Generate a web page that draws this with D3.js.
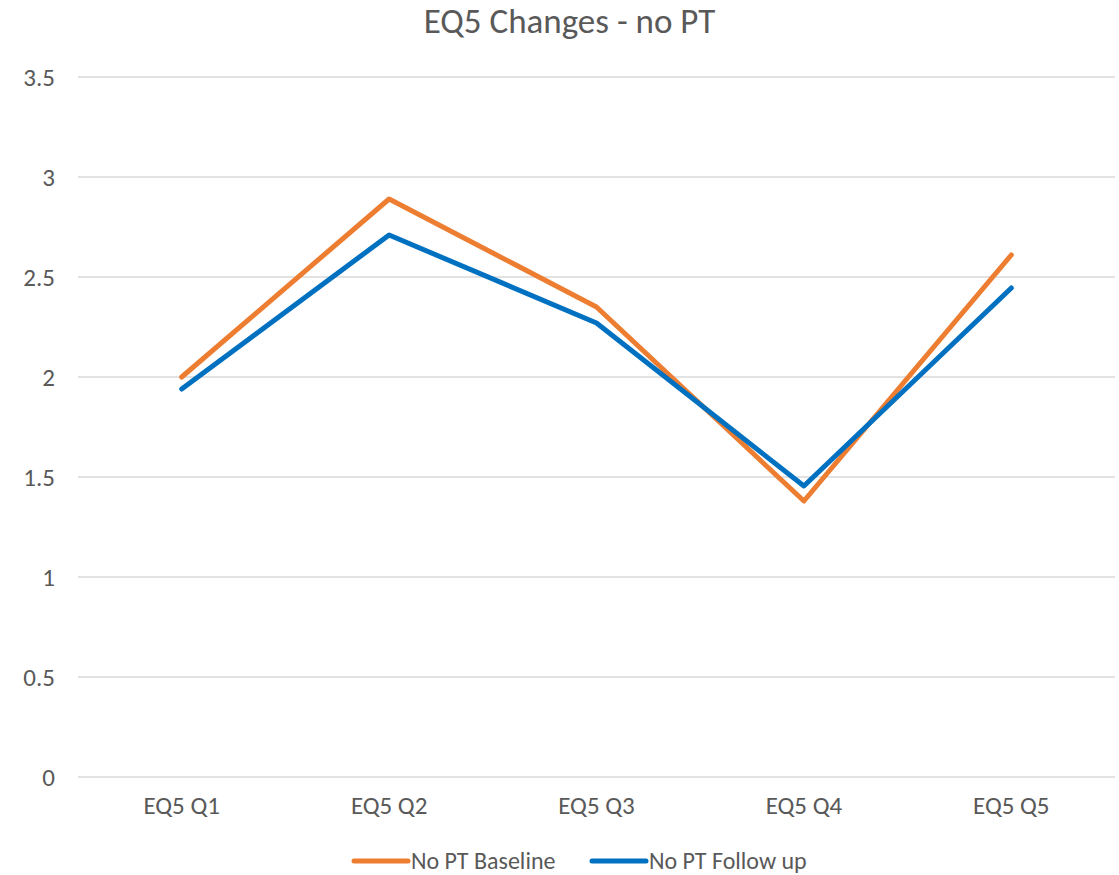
<!DOCTYPE html>
<meta charset="utf-8">
<style>
body { margin: 0; background: #fff; }
text { font-family: Carlito, Calibri, "Open Sans", sans-serif; fill: #595959; }
.grid line { stroke: #d9d9d9; stroke-width: 1.3px; }
.line { fill: none; stroke-width: 5px; stroke-linejoin: round; stroke-linecap: round; }
</style>
<body>
<script src="https://d3js.org/d3.v7.min.js"></script>
<script>

// data
var categories = ["EQ5 Q1", "EQ5 Q2", "EQ5 Q3", "EQ5 Q4", "EQ5 Q5"];
var baseline = [2.0, 2.89, 2.35, 1.38, 2.61];
var followUp = [1.94, 2.71, 2.27, 1.455, 2.445];
var yTicks = [0, 0.5, 1, 1.5, 2, 2.5, 3, 3.5];
var seriesNames = ["No PT Baseline", "No PT Follow up"];
var colors = ["#ed7d31", "#0070c0"];

var W = 1119, H = 875;
var margin = {top: 77, right: 4, bottom: 98, left: 78},
    width = W - margin.left - margin.right,
    height = H - margin.top - margin.bottom;

var svg = d3.select("body").append("svg")
    .attr("width", W)
    .attr("height", H);

// title
svg.append("text")
    .attr("x", W / 2 + 10)
    .attr("y", 33)
    .attr("text-anchor", "middle")
    .style("font-size", "35px")
    .text("EQ5 Changes - no PT");

var g = svg.append("g")
    .attr("transform", "translate(" + margin.left + "," + margin.top + ")");

var x = d3.scaleBand().domain(categories).range([0, width]);
var y = d3.scaleLinear().domain([0, 3.5]).range([height, 0]);

// gridlines
g.append("g")
    .attr("class", "grid")
  .selectAll("line")
    .data(yTicks)
  .enter().append("line")
    .attr("x1", 0)
    .attr("x2", width)
    .attr("y1", d => y(d))
    .attr("y2", d => y(d));

// y labels
var yAxis = g.append("g")
    .call(d3.axisLeft(y).tickValues(yTicks).tickSize(0).tickPadding(23).tickFormat(d3.format("")));
yAxis.select(".domain").remove();
yAxis.selectAll("text").style("font-size", "25px").attr("fill", "#595959");

// x labels
var xAxis = g.append("g")
    .attr("transform", "translate(0," + height + ")")
    .call(d3.axisBottom(x).tickSize(0).tickPadding(19));
xAxis.select(".domain").remove();
xAxis.selectAll("text").style("font-size", "25px").attr("fill", "#595959");

// lines
var line = d3.line()
    .x((d, i) => x(categories[i]) + x.bandwidth() / 2)
    .y(d => y(d));

[baseline, followUp].forEach(function(s, i) {
  g.append("path")
      .datum(s)
      .attr("class", "line")
      .style("stroke", colors[i])
      .attr("d", line);
});

// legend
var legendX = [352, 590];
var legend = svg.selectAll(".legend")
    .data(seriesNames)
  .enter().append("g")
    .attr("class", "legend")
    .attr("transform", (d, i) => "translate(" + legendX[i] + ",861)");

legend.append("line")
    .attr("x1", 2).attr("x2", 56)
    .attr("y1", 0).attr("y2", 0)
    .attr("stroke", (d, i) => colors[i])
    .attr("stroke-width", 5)
    .attr("stroke-linecap", "round");

legend.append("text")
    .attr("x", 59)
    .attr("y", 0)
    .attr("dy", "0.35em")
    .style("font-size", "24px")
    .text(d => d);

</script>
</body>
